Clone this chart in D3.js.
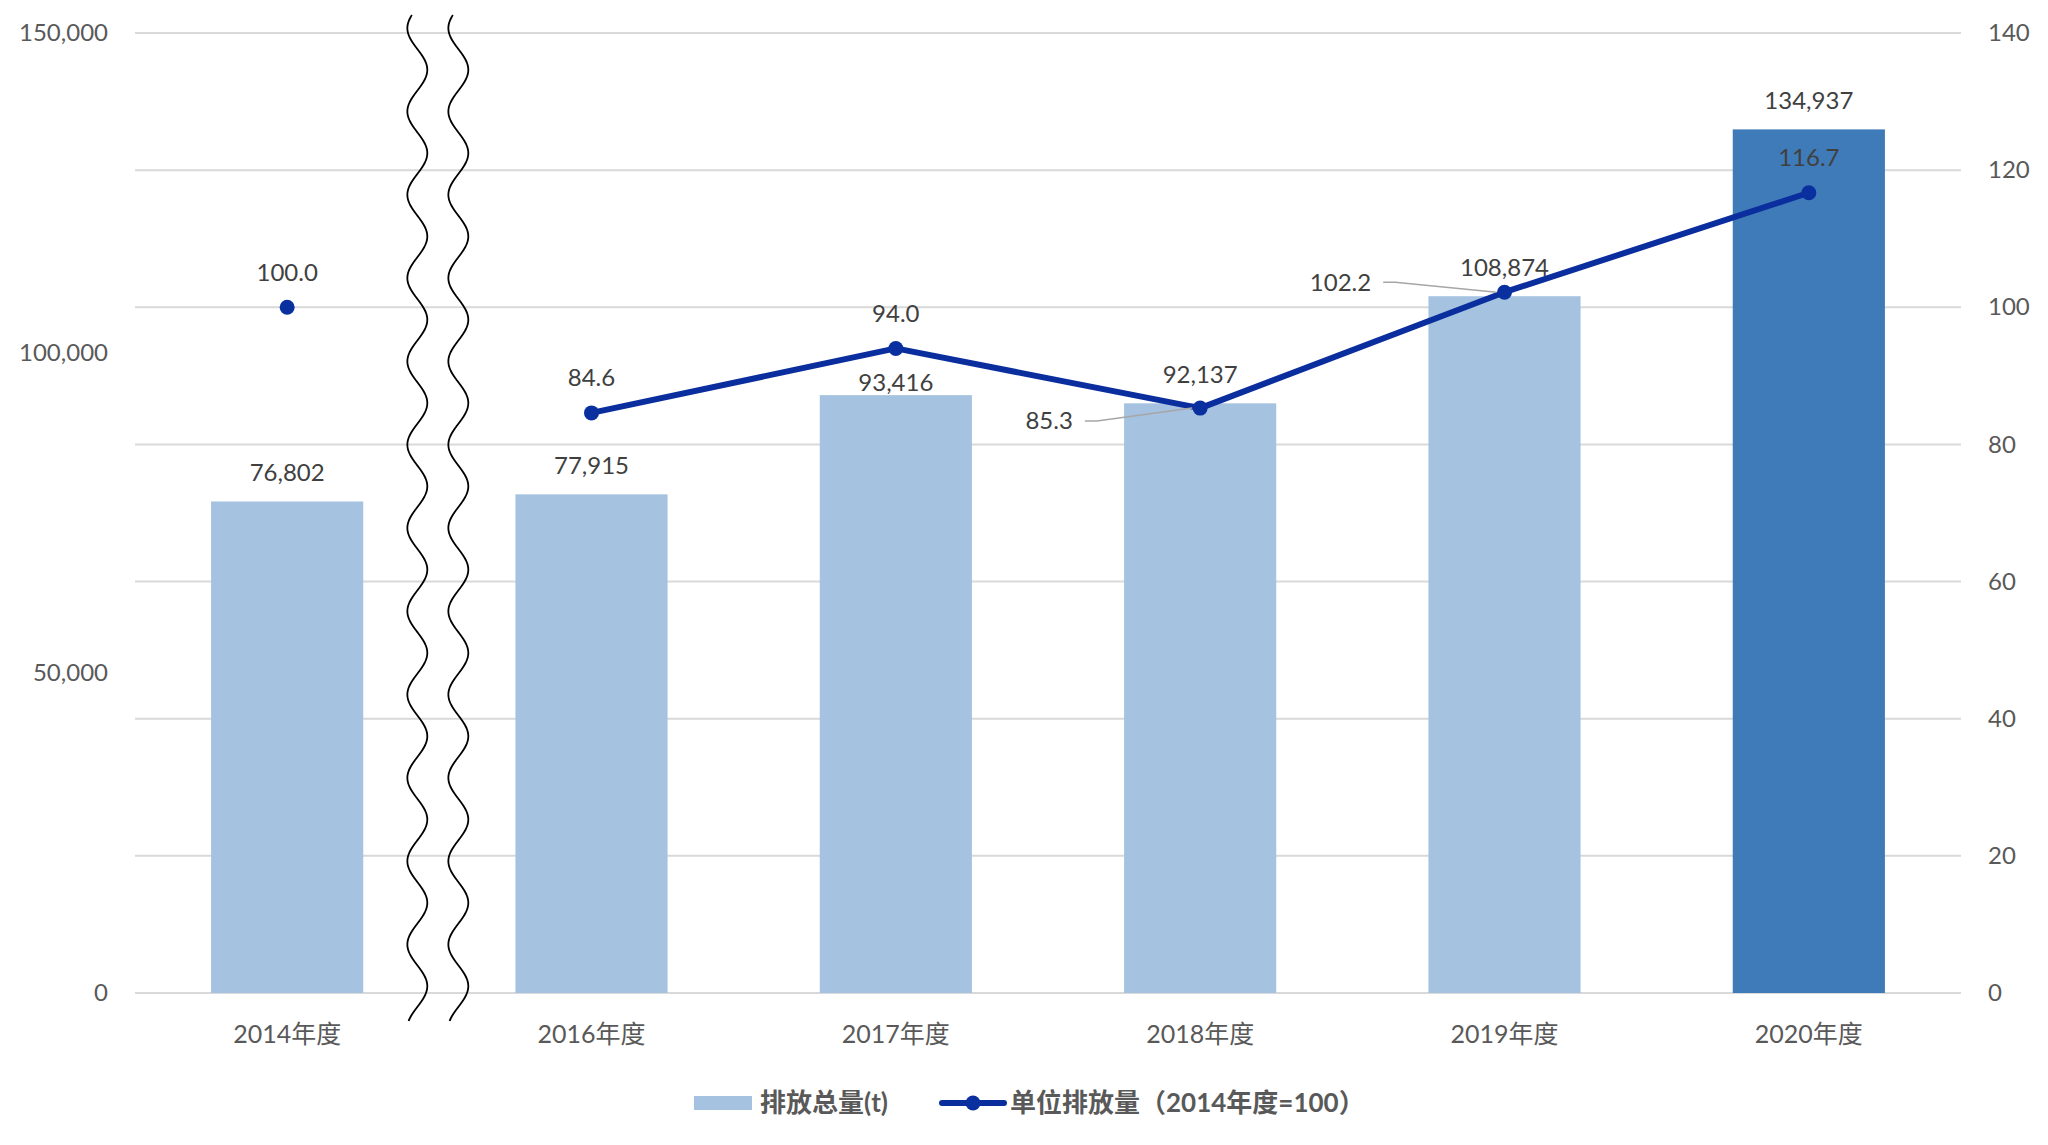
<!DOCTYPE html>
<html>
<head>
<meta charset="utf-8">
<script src="https://cdn.jsdelivr.net/npm/d3@7"></script>
<style>
  body { margin: 0; background: #fff; }
  text { font-family: Lato, "Noto Sans CJK SC", sans-serif; }
</style>
</head>
<body>
<div id="chart"></div>
<script>
// data
const categories = ["2014年度", "2016年度", "2017年度", "2018年度", "2019年度", "2020年度"];
const totalEmission = [76802, 77915, 93416, 92137, 108874, 134937];
const unitEmission = [100.0, 84.6, 94.0, 85.3, 102.2, 116.7];
const leftTicks = [0, 50000, 100000, 150000];
const rightTicks = [0, 20, 40, 60, 80, 100, 120, 140];
const seriesNames = ["排放总量(t)", "单位排放量（2014年度=100）"];
const highlightCat = "2020年度";
const breakAfter = "2014年度";

const W = 2048, H = 1145;
const margin = { top: 33, right: 87, bottom: 152, left: 135 };

const svg = d3.select("#chart").append("svg")
    .attr("width", W)
    .attr("height", H);

const x = d3.scaleBand()
    .domain(categories)
    .range([margin.left, W - margin.right])
    .paddingInner(0.5)
    .paddingOuter(0.25);

const yL = d3.scaleLinear().domain([0, 150000]).range([H - margin.bottom, margin.top]);
const yR = d3.scaleLinear().domain([0, 140]).range([H - margin.bottom, margin.top]);

const rows = categories.map((c, i) => ({ cat: c, total: totalEmission[i], unit: unitEmission[i] }));

// gridlines (follow right axis)
svg.append("g")
    .selectAll("line")
    .data(rightTicks)
    .join("line")
    .attr("x1", margin.left)
    .attr("x2", W - margin.right)
    .attr("y1", d => yR(d))
    .attr("y2", d => yR(d))
    .attr("stroke", "#d9d9d9")
    .attr("stroke-width", 2);

// axes
const axLeft = svg.append("g")
    .attr("transform", `translate(${margin.left},0)`)
    .call(d3.axisLeft(yL).tickValues(leftTicks).tickFormat(d3.format(",")).tickSize(0).tickPadding(27));
const axRight = svg.append("g")
    .attr("transform", `translate(${W - margin.right},0)`)
    .call(d3.axisRight(yR).tickValues(rightTicks).tickSize(0).tickPadding(27));
const axBottom = svg.append("g")
    .attr("transform", `translate(0,${H - margin.bottom})`)
    .call(d3.axisBottom(x).tickSize(0).tickPadding(32));

[axLeft, axRight, axBottom].forEach(g => {
    g.select(".domain").remove();
    g.selectAll("text")
        .attr("fill", "#595959")
        .style("font-size", "24px")
        .style("font-family", 'Lato, "Noto Sans CJK SC", sans-serif');
});
axBottom.selectAll("text").style("font-size", "25px");

// bars
svg.append("g")
    .selectAll("rect")
    .data(rows)
    .join("rect")
    .attr("x", d => x(d.cat))
    .attr("width", x.bandwidth())
    .attr("y", d => yL(d.total))
    .attr("height", d => yL(0) - yL(d.total))
    .attr("fill", d => d.cat === highlightCat ? "#3f7bb8" : "#a5c3e1");

// break marks between 2014 and 2016
const gapX = x(categories[1]) - x.step() * x.paddingInner() / 2;
const wave = d3.line().curve(d3.curveBasis);
[-22, 19].forEach(off => {
    const pts = d3.range(15, 1022, 2).map(y => [gapX + off + 10 * Math.sin(2 * Math.PI * (y - 49) / 83.3), y]);
    svg.append("path")
        .attr("d", wave(pts))
        .attr("fill", "none")
        .attr("stroke", "#000")
        .attr("stroke-width", 1.8);
});

// line
const lineRows = rows.filter(d => d.cat !== breakAfter);
const cx = d => x(d.cat) + x.bandwidth() / 2;
svg.append("path")
    .datum(lineRows)
    .attr("d", d3.line().x(cx).y(d => yR(d.unit)))
    .attr("fill", "none")
    .attr("stroke", "#0b2e9e")
    .attr("stroke-width", 6)
    .attr("stroke-linejoin", "round");

svg.append("g")
    .selectAll("circle")
    .data(rows)
    .join("circle")
    .attr("cx", cx)
    .attr("cy", d => yR(d.unit))
    .attr("r", 7.5)
    .attr("fill", "#0a2f9f");

// labels
const barNudge = { "2017年度": 16 };
const lineNudge = { "2018年度": [-151, 13], "2019年度": [-164, -10] };
const fmt = d3.format(",");

svg.append("g")
    .selectAll("text")
    .data(rows)
    .join("text")
    .attr("x", cx)
    .attr("y", d => yL(d.total) - 29 + (barNudge[d.cat] || 0))
    .attr("dy", "0.35em")
    .attr("text-anchor", "middle")
    .attr("fill", "#404040")
    .style("font-size", "24px")
    .text(d => fmt(d.total));

const lineLabels = svg.append("g");
rows.forEach(d => {
    const n = lineNudge[d.cat];
    const lx = cx(d) + (n ? n[0] : 0);
    const ly = yR(d.unit) + (n ? n[1] : -35);
    const t = lineLabels.append("text")
        .attr("x", lx)
        .attr("y", ly)
        .attr("dy", "0.35em")
        .attr("text-anchor", "middle")
        .attr("fill", "#404040")
        .style("font-size", "24px")
        .text(d.unit.toFixed(1));
    if (n) {
        const w = t.node().getComputedTextLength();
        const sx = lx + w / 2 + 12;
        lineLabels.append("path")
            .attr("d", d3.line()([[sx, ly], [sx + 12, ly], [cx(d) - 8, yR(d.unit)]]))
            .attr("fill", "none")
            .attr("stroke", "#a6a6a6")
            .attr("stroke-width", 1.5);
    }
});

// legend
const legY = 1103;
const leg = svg.append("g");
leg.append("rect")
    .attr("x", 694).attr("y", legY - 7)
    .attr("width", 58).attr("height", 14)
    .attr("fill", "#a5c3e1");
leg.append("text")
    .attr("x", 760).attr("y", legY).attr("dy", "0.35em")
    .attr("fill", "#595959")
    .style("font-size", "26px").style("font-weight", "bold")
    .text(seriesNames[0]);
leg.append("line")
    .attr("x1", 942).attr("x2", 1004)
    .attr("y1", legY).attr("y2", legY)
    .attr("stroke", "#0b2e9e").attr("stroke-width", 6)
    .attr("stroke-linecap", "round");
leg.append("circle")
    .attr("cx", 973).attr("cy", legY).attr("r", 7.5)
    .attr("fill", "#0a2f9f");
leg.append("text")
    .attr("x", 1010).attr("y", legY).attr("dy", "0.35em")
    .attr("fill", "#595959")
    .style("font-size", "26px").style("font-weight", "bold")
    .text(seriesNames[1]);
</script>
</body>
</html>
